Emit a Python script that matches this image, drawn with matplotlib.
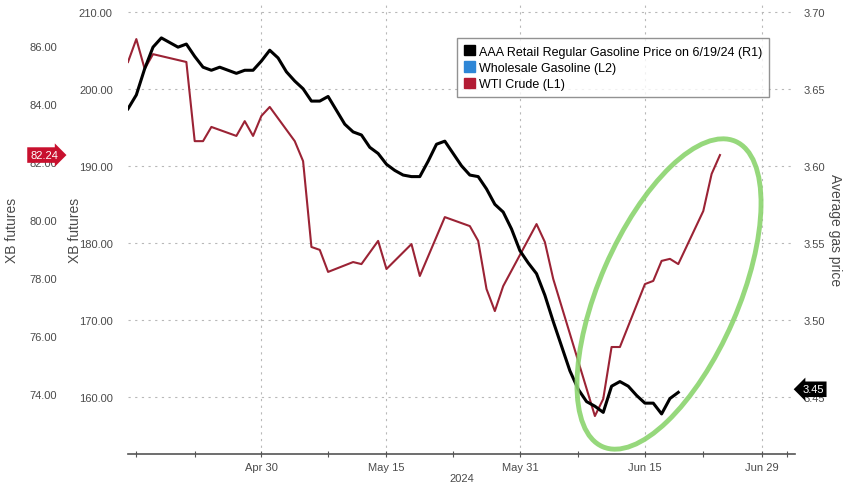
import numpy as np
import pandas as pd
import matplotlib
matplotlib.use("Agg")
import matplotlib.pyplot as plt
import matplotlib.dates as mdates
from matplotlib.patches import Patch, Ellipse
from matplotlib.transforms import blended_transform_factory

plt.rcParams["font.family"] = ["Liberation Sans", "DejaVu Sans"]

# AAA retail regular gasoline, daily (R1)
gas_dates = pd.date_range("2024-04-14", "2024-06-19", freq="D")
gas_price = [3.637, 3.646, 3.663, 3.677, 3.683, 3.680, 3.677, 3.679, 3.671, 3.664,
             3.662, 3.664, 3.662, 3.660, 3.662, 3.662, 3.668, 3.675, 3.670, 3.661,
             3.655, 3.650, 3.642, 3.642, 3.645, 3.636, 3.627, 3.622, 3.620, 3.612,
             3.608, 3.601, 3.597, 3.594, 3.593, 3.593, 3.603, 3.614, 3.616, 3.608,
             3.600, 3.594, 3.593, 3.585, 3.575, 3.570, 3.559, 3.545, 3.537, 3.530,
             3.516, 3.499, 3.483, 3.467, 3.455, 3.447, 3.444, 3.440, 3.457, 3.460,
             3.457, 3.451, 3.446, 3.446, 3.439, 3.449, 3.453]

# WTI crude (L1)
wti_dates = ["2024-04-14", "2024-04-15", "2024-04-16", "2024-04-17", "2024-04-21",
             "2024-04-22", "2024-04-23", "2024-04-24", "2024-04-27", "2024-04-28",
             "2024-04-29", "2024-04-30", "2024-05-01", "2024-05-04", "2024-05-05",
             "2024-05-06", "2024-05-07", "2024-05-08", "2024-05-11", "2024-05-12",
             "2024-05-14", "2024-05-15", "2024-05-18", "2024-05-19", "2024-05-22",
             "2024-05-25", "2024-05-26", "2024-05-27", "2024-05-28", "2024-05-29",
             "2024-06-02", "2024-06-03", "2024-06-04", "2024-06-09", "2024-06-10",
             "2024-06-11", "2024-06-12", "2024-06-15", "2024-06-16", "2024-06-17",
             "2024-06-18", "2024-06-19", "2024-06-22", "2024-06-23", "2024-06-24"]
wti_price = [85.45, 86.24, 85.21, 85.72, 85.45, 82.72, 82.72, 83.21, 82.90, 83.41,
             82.90, 83.59, 83.90, 82.72, 82.03, 79.07, 78.97, 78.21, 78.55, 78.48,
             79.28, 78.31, 79.17, 78.07, 80.10, 79.79, 79.28, 77.62, 76.86, 77.72,
             79.86, 79.24, 77.97, 73.24, 73.83, 75.62, 75.62, 77.79, 77.90, 78.59,
             78.66, 78.48, 80.31, 81.59, 82.24]

xb_ticks = [160, 170, 180, 190, 200, 210]
wti_ticks = [74, 76, 78, 80, 82, 84, 86]
gas_ticks = [3.45, 3.50, 3.55, 3.60, 3.65, 3.70]
major_days = ["2024-04-30", "2024-05-15", "2024-05-31", "2024-06-15", "2024-06-29"]
minor_days = ["2024-04-15", "2024-04-22", "2024-05-08", "2024-05-23", "2024-06-07",
              "2024-06-22", "2024-07-02"]

wti_dates = pd.to_datetime(wti_dates)
txt = "#4a4a4a"
grid_c = "#b8b8b8"

fig = plt.figure(figsize=(8.48, 4.85), dpi=100)
ax = fig.add_axes([128 / 848, 1 - 455 / 485, 667 / 848, 450 / 485])

# inner left axis: XB futures (L2) - no visible series
ax.set_ylim(152.6, 211.0)
ax.set_yticks(xb_ticks)
ax.set_yticklabels([f"{v:.2f}" for v in xb_ticks])
ax.tick_params(axis="y", length=0, pad=11, labelsize=8, labelcolor=txt)
ax.set_xlim(pd.Timestamp("2024-04-14"), pd.Timestamp("2024-07-03"))
ax.set_xticks(pd.to_datetime(major_days))
ax.set_xticks(pd.to_datetime(minor_days), minor=True)
ax.xaxis.set_major_formatter(mdates.DateFormatter("%b %d"))
ax.tick_params(axis="x", which="both", direction="inout", length=5, width=0.8,
               color="#555555", labelsize=8, labelcolor=txt, pad=3)
ax.grid(True, which="major", linestyle=(0, (2, 4)), color=grid_c, linewidth=0.8)
ax.set_xlabel("2024", fontsize=8, color=txt, labelpad=1)
for s in ["left", "right", "top"]:
    ax.spines[s].set_visible(False)
ax.spines["bottom"].set_color("#555555")
ax.spines["bottom"].set_linewidth(1.2)
ax.set_ylabel("XB futures", fontsize=10, color=txt)
ax.yaxis.set_label_coords(-0.069, 0.5)

# outer left axis: WTI crude
wti_ax = ax.twinx()
wti_ax.yaxis.set_ticks_position("left")
wti_ax.yaxis.set_label_position("left")
wti_ax.spines["left"].set_position(("outward", 48))
for s in wti_ax.spines.values():
    s.set_visible(False)
wti_ax.set_ylim(71.93, 87.45)
wti_ax.set_yticks(wti_ticks)
wti_ax.set_yticklabels([f"{v:.2f}" for v in wti_ticks])
wti_ax.tick_params(axis="y", length=0, pad=3, labelsize=8, labelcolor=txt)
wti_ax.set_ylabel("XB futures", fontsize=10, color=txt)
wti_ax.yaxis.set_label_coords(-0.164, 0.5)
wti_ax.plot(wti_dates, wti_price, color="#9b2335", linewidth=1.5)

# right axis: average gas price
gas_ax = ax.twinx()
for s in gas_ax.spines.values():
    s.set_visible(False)
gas_ax.set_ylim(3.413, 3.705)
gas_ax.set_yticks(gas_ticks)
gas_ax.set_yticklabels([f"{v:.2f}" for v in gas_ticks])
gas_ax.tick_params(axis="y", length=0, pad=6, labelsize=8, labelcolor=txt)
gas_ax.set_ylabel("Average gas price", fontsize=10, color=txt, rotation=270)
gas_ax.yaxis.set_label_coords(1.071, 0.5)
gas_ax.plot(gas_dates, gas_price, color="black", linewidth=2.2)

# last value tags
tr = blended_transform_factory(ax.transAxes, wti_ax.transData)
wti_ax.text(-0.126, wti_price[-1], f"{wti_price[-1]:.2f}", transform=tr, ha="center",
            va="center", color="white", fontsize=8, clip_on=False, zorder=10,
            bbox=dict(boxstyle="rarrow,pad=0.25", fc="#c8102e", ec="none"))
tr2 = blended_transform_factory(ax.transAxes, gas_ax.transData)
gas_ax.text(1.027, gas_price[-1] + 0.002, f"{gas_price[-1]:.2f}", transform=tr2,
            ha="center", va="center", color="white", fontsize=8, clip_on=False,
            zorder=10, bbox=dict(boxstyle="larrow,pad=0.25", fc="black", ec="none"))

handles = [Patch(fc="black", ec="black"), Patch(fc="#2e86d6", ec="#2e86d6"),
           Patch(fc="#b31b34", ec="#b31b34")]
labels = ["AAA Retail Regular Gasoline Price on 6/19/24 (R1)",
          "Wholesale Gasoline (L2)", "WTI Crude (L1)"]
leg = gas_ax.legend(handles, labels, loc="upper left", bbox_to_anchor=(0.493, 0.924),
                    borderaxespad=0, fontsize=9, frameon=True, fancybox=False,
                    handlelength=0.9, handleheight=0.9, handletextpad=0.3,
                    labelspacing=0.3, borderpad=0.55, edgecolor="#777777")
leg.get_frame().set_linewidth(1.0)

# green highlight ellipse
fig.patches.append(Ellipse((6.69, 1.90), 3.33, 1.39, angle=66.5, fill=False,
                           edgecolor="#8bd46e", linewidth=3.5, alpha=0.9,
                           transform=fig.dpi_scale_trans, figure=fig))

fig.savefig("out.png", dpi=100)
